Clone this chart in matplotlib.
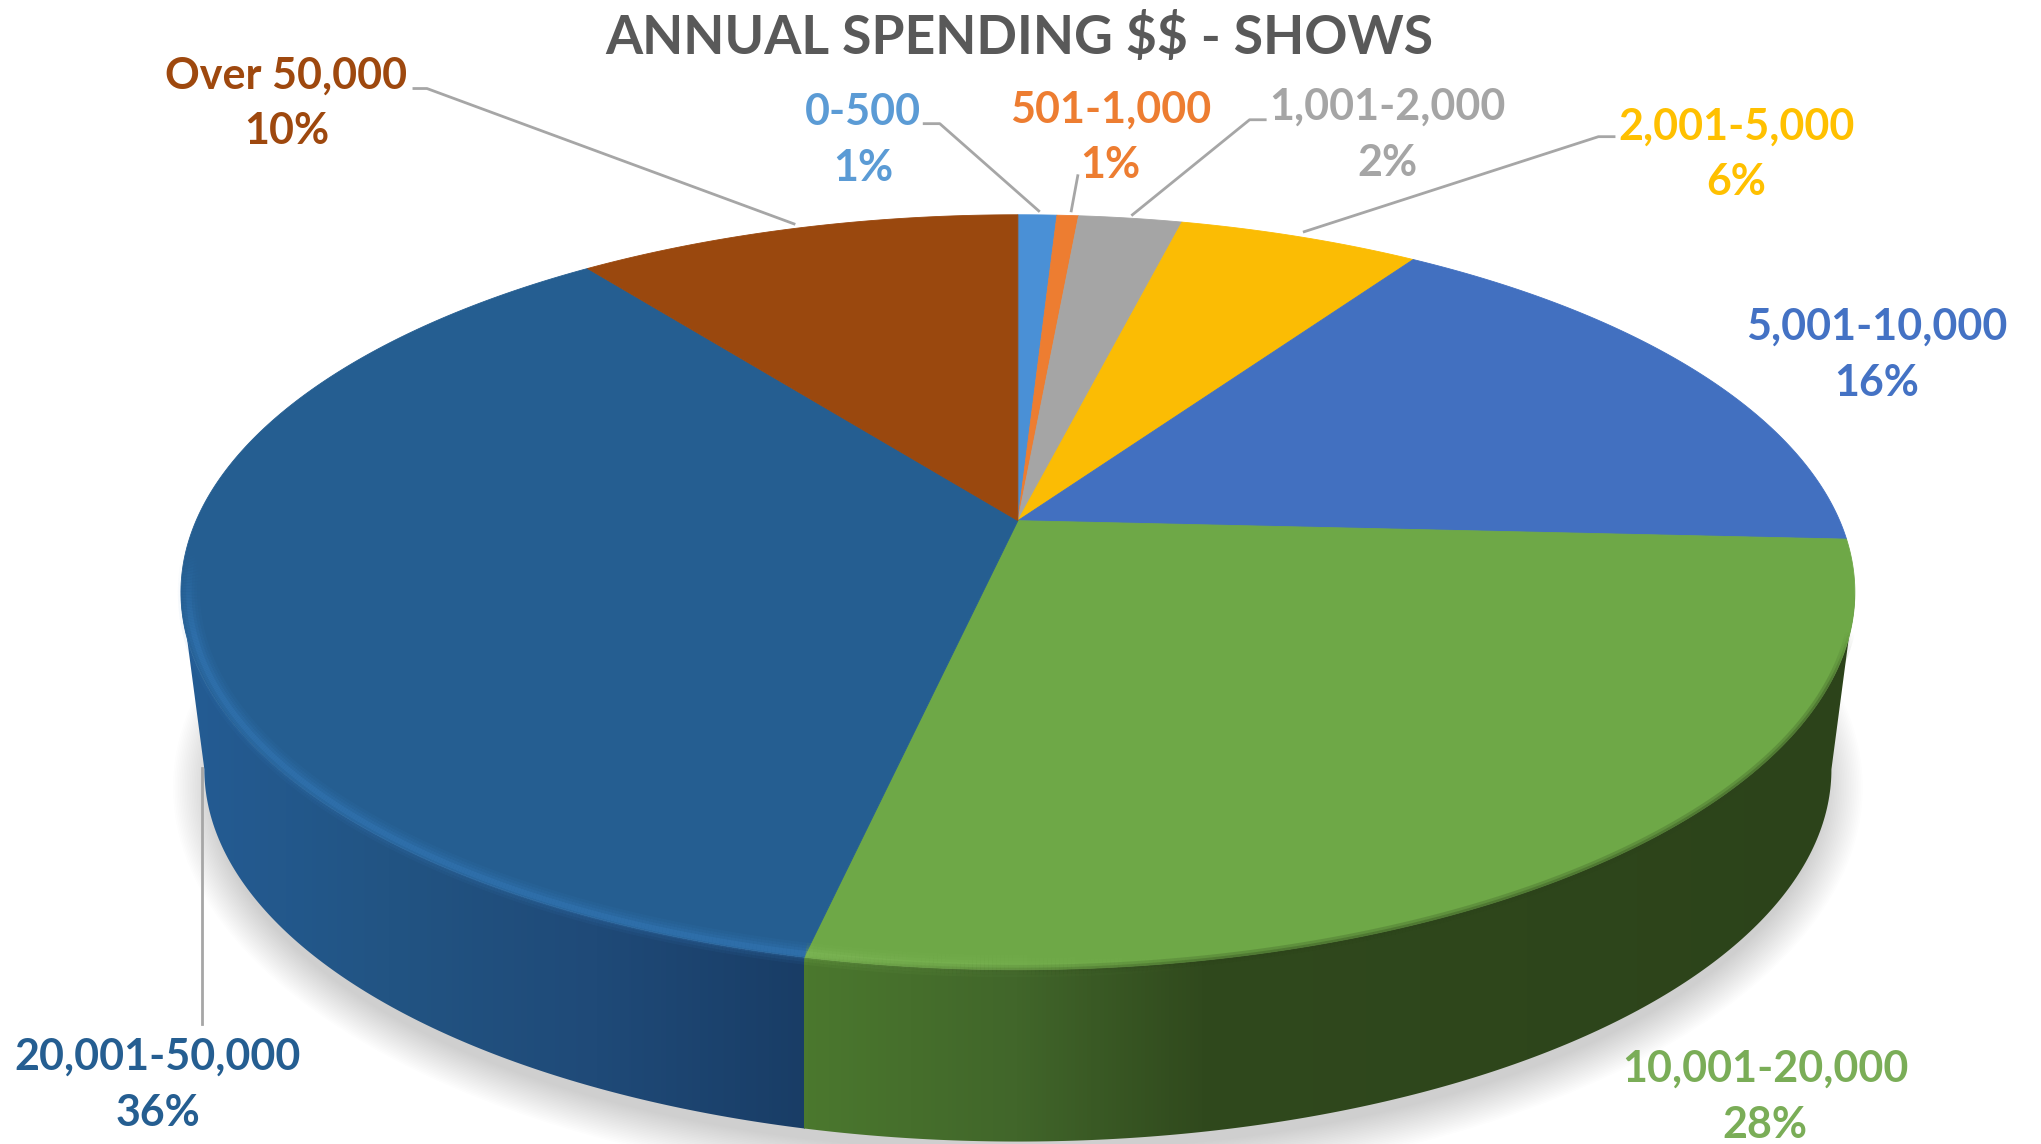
import matplotlib
matplotlib.use("Agg")
import matplotlib.pyplot as plt
import numpy as np
from matplotlib.collections import LineCollection
from matplotlib.colors import LinearSegmentedColormap, to_rgb
from matplotlib.patches import Ellipse, Polygon

plt.rcParams["font.family"] = ["Lato", "DejaVu Sans"]

W, H = 2041, 1144
S = W / 1568

categories = ["0-500", "501-1,000", "1,001-2,000", "2,001-5,000", "5,001-10,000",
              "10,001-20,000", "20,001-50,000", "Over 50,000"]
shares = [0.9, 0.5, 2.4, 5.6, 16.4, 27.6, 36.3, 10.3]
pct_labels = ["1%", "1%", "2%", "6%", "16%", "28%", "36%", "10%"]
colors = ["#4a90d6", "#ed7d31", "#a5a5a5", "#fbbc04", "#4270c0", "#6ea847", "#255e91", "#9a480e"]
text_colors = ["#5b9bd5", "#ed7d31", "#a5a5a5", "#ffc000", "#4472c4", "#7aad57", "#255e91", "#9e480e"]

# label centre x, y of name, y of percent
label_pos = [(663, 86, 129), (853, 84, 127), (1066, 82, 125), (1334, 97, 140),
             (1442, 251, 294), (1356, 821, 864), (121, 812, 855), (220, 58, 101)]
leaders = [[(710, 95), (722, 95), (798, 162)],
           [(828, 135), (823, 162)],
           [(972, 92), (960, 92), (870, 165)],
           [(1240, 105), (1228, 105), (1002, 178)],
           [(155, 787), (155, 590)],
           [(318, 68), (328, 68), (610, 172)]]

# top disc: ellipse with the apex off-centre (perspective)
CX, APEX_Y = 782 * S, 400 * S
TOP_Y, BOT_Y, HALF_W = 165 * S, 745 * S, 643 * S
c = (TOP_Y + BOT_Y - 2 * APEX_Y) / (BOT_Y - TOP_Y)
b = TOP_Y * (1 + c) - APEX_Y
d = HALF_W * np.sqrt(1 - c ** 2)


def project(theta):
    u, v = np.sin(theta), np.cos(theta)
    w = 1 + c * v
    return CX + d * u / w, (APEX_Y + b * v) / w


# bottom disc of the wall
LOW_CY, LOW_A, LOW_B = 591 * S, 625 * S, 286 * S
MID_Y, RAD_B = (TOP_Y + BOT_Y) / 2, (BOT_Y - TOP_Y) / 2

fig = plt.figure(figsize=(W / 100, H / 100), dpi=100)
ax = fig.add_axes([0, 0, 1, 1])
ax.axis("off")

# soft shadow under the disc
for k in range(24):
    ax.add_patch(Ellipse((CX, LOW_CY + 14 * S), 2 * (LOW_A + 24 * S - 1.3 * k * S), 2 * (LOW_B + 24 * S - 1.3 * k * S),
                         fc="#5a5a5a", ec="none", alpha=0.012, zorder=1))

# wall outline: lower half of top ellipse + lower half of bottom ellipse
t = np.linspace(0, np.pi, 300)
top_x, top_y = CX + HALF_W * np.cos(t), MID_Y + RAD_B * np.sin(t)
low_x, low_y = CX + LOW_A * np.cos(t), LOW_CY + LOW_B * np.sin(t)
wall = Polygon(np.r_[np.c_[top_x, top_y], np.c_[low_x, low_y][::-1]], closed=True, fc="none", ec="none")
ax.add_patch(wall)

# the seam between the two visible wall colours sits at the green/dark blue boundary
cum = np.cumsum([0] + shares) / sum(shares) * 2 * np.pi
seam_x = project(cum[6])[0]
left_edge, right_edge = CX - HALF_W, CX + HALF_W

blue_wall = LinearSegmentedColormap.from_list("b", ["#245c94", "#225483", "#1f4a78", "#193d66"])
green_wall = LinearSegmentedColormap.from_list("g", [(0, "#4b782e"), (0.2, "#41662a"), (0.38, "#30491d"), (1, "#2c431a")])
for cmap, x0, x1 in [(blue_wall, left_edge, seam_x), (green_wall, seam_x, right_edge)]:
    im = ax.imshow(np.linspace(0, 1, 256)[None, :], cmap=cmap, extent=[x0, x1, H, 0],
                   aspect="auto", zorder=2)
    im.set_clip_path(wall)

# top wedges
for i, (a0, a1) in enumerate(zip(cum[:-1], cum[1:])):
    th = np.linspace(a0, a1, 200)
    px, py = project(th)
    pts = np.r_[[[CX, APEX_Y]], np.c_[px, py]]
    ax.add_patch(Polygon(pts, closed=True, fc=colors[i], ec=colors[i], lw=0.6, zorder=3))

# bright bevel along the front rim, fading on the green side
th = np.linspace(np.pi * 0.52, np.pi * 1.52, 800)
rx, ry = project(th)
f = 1 - 8 / HALF_W
rx = CX + (rx - CX) * f
ry = MID_Y + (ry - MID_Y) * f
segs = np.stack([np.c_[rx[:-1], ry[:-1]], np.c_[rx[1:], ry[1:]]], axis=1)
mid = (rx[:-1] + rx[1:]) / 2
is_blue = mid < seam_x
fade = np.where(is_blue, 1.0, np.clip(1 - (mid - seam_x) / (330 * S), 0, 1))
front = np.clip((ry[:-1] - MID_Y) / (70 * S) + 0.5, 0, 1)
for lw, strength in [(16, 0.07), (12, 0.09), (8, 0.13), (4, 0.2)]:
    rgba = np.zeros((len(mid), 4))
    rgba[is_blue, :3] = to_rgb("#3f8ad0")
    rgba[~is_blue, :3] = to_rgb("#8cc565")
    rgba[:, 3] = strength * fade * front
    ax.add_collection(LineCollection(segs, colors=rgba, linewidths=lw, zorder=4, capstyle="butt"))

# soft dark edge where the green top meets its dark wall, only below the widest point
ex, ey = project(th)
eseg = np.stack([np.c_[ex[:-1], ey[:-1]], np.c_[ex[1:], ey[1:]]], axis=1)
low = np.clip((ey[:-1] - MID_Y - 30 * S) / (40 * S), 0, 1)
for lw, strength in [(7, 0.22), (3, 0.3)]:
    rgba = np.zeros((len(mid), 4))
    rgba[:, :3] = to_rgb("#2c431a")
    rgba[:, 3] = strength * np.clip((ex[:-1] - seam_x) / (330 * S), 0, 1) * low
    ax.add_collection(LineCollection(eseg, colors=rgba, linewidths=lw, zorder=4, capstyle="butt"))

# leader lines
for line in leaders:
    xs, ys = zip(*line)
    ax.plot(np.array(xs) * S, np.array(ys) * S, color="#a6a6a6", lw=2, zorder=5)

# labels
for name, pct, col, (lx, ly1, ly2) in zip(categories, pct_labels, text_colors, label_pos):
    ax.text(lx * S, ly1 * S, name, color=col, fontsize=31, fontweight="bold", ha="center", va="center", zorder=6)
    ax.text(lx * S, ly2 * S, pct, color=col, fontsize=31, fontweight="bold", ha="center", va="center", zorder=6)

ax.text(783 * S, 29 * S, r"ANNUAL SPENDING \$\$ - SHOWS", color="#595959", fontsize=38.5,
        fontweight="bold", ha="center", va="center", zorder=6)

ax.set_xlim(0, W)
ax.set_ylim(H, 0)
fig.savefig("out.png", dpi=100)
